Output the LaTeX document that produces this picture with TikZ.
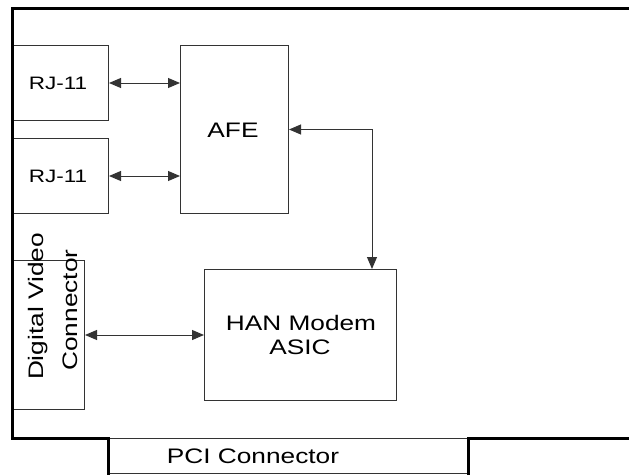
\documentclass[tikz,border=0pt]{standalone}
\usepackage{fontspec}
\setmainfont{Liberation Sans}[FakeStretch=1.25]
\usetikzlibrary{arrows.meta,calc}
\tikzset{
  box/.style={draw=black!80,line width=1pt,inner sep=0pt,anchor=north west},
  conn/.style={draw=black!80,line width=1pt,{Triangle[length=12pt,width=10pt]}-{Triangle[length=12pt,width=10pt]}},
  board/.style={line width=3pt,line cap=rect},
  lbl/.style={inner sep=0pt,anchor=base,font=\fontsize{21pt}{24pt}\selectfont},
  lbls/.style={inner sep=0pt,anchor=base,font=\fontsize{18pt}{22pt}\selectfont}
}
\begin{document}
\begin{tikzpicture}[x=1pt,y=-1pt]
\useasboundingbox (0,0) rectangle (629,475);
% boxes
\node[box,minimum width=96pt,minimum height=75pt] (rja) at (12,45) {};
\node[box,minimum width=96pt,minimum height=75pt] (rjb) at (12,138) {};
\node[box,minimum width=108pt,minimum height=168pt] (afe) at (180,45) {};
\node[box,minimum width=72pt,minimum height=149pt] (dv) at (12,260) {};
\node[box,minimum width=192pt,minimum height=131pt] (han) at (204,269) {};
\node[box,minimum width=360pt,minimum height=35pt] (pci) at (108,438) {};
% labels
\node[lbls] (trja) at (58,89) {RJ-11};
\node[lbls] (trjb) at (58,182) {RJ-11};
\node[lbl] (tafe) at (233,137) {AFE};
\node[lbl] (than1) at (301,330) {HAN Modem};
\node[lbl] (than2) at (300,354) {ASIC};
\node[lbl] (tpci) at (253,463) {PCI Connector};
\node[lbl,rotate=90] (tdv1) at (43,306.5) {Digital Video};
\node[lbl,rotate=90] (tdv2) at (77,310) {Connector};
% board outline
\draw[board] (629,8) -- (12,8) -- (12,438) -- (108,438) -- (108,473);
\draw[board] (468,473) -- (468,438) -- (629,438);
% connectors
\coordinate (hantop) at (372,269);
\draw[conn] (rja.east) -- (rja.east -| afe.west);
\draw[conn] (rjb.east) -- (rjb.east -| afe.west);
\draw[conn] (afe.east) -| (hantop);
\draw[conn] (dv.east) -- (han.west);
\end{tikzpicture}
\end{document}
